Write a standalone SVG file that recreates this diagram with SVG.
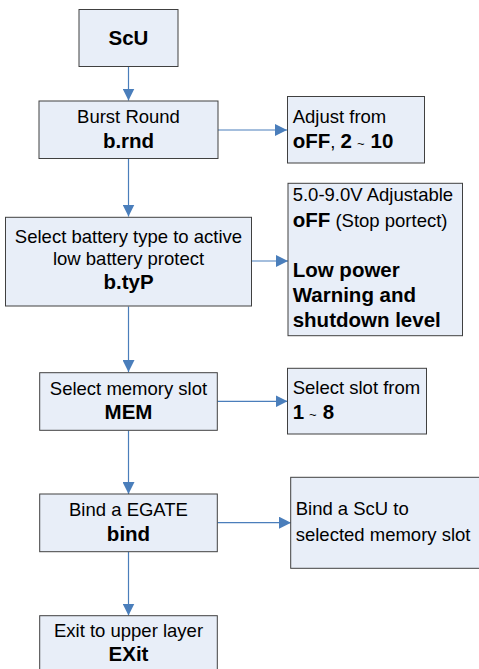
<svg xmlns="http://www.w3.org/2000/svg" width="479" height="669" viewBox="0 0 479 669">
<style>
.box{fill:#E8EEF8;stroke:#404040;stroke-width:1}
.t{font-family:"Liberation Sans",Arial,sans-serif;font-size:18.5px;fill:#000}
.b{font-family:"Liberation Sans",Arial,sans-serif;font-size:20.5px;font-weight:bold;fill:#000}
.c{text-anchor:middle}
.ln{stroke:#4A7EBB;stroke-width:1.2;fill:none}
</style>
<defs>
<marker id="ah" viewBox="0 0 12 12" refX="12" refY="6" markerWidth="12" markerHeight="12" markerUnits="userSpaceOnUse" orient="auto">
<path d="M0,0 L12,6 L0,12 Z" fill="#4A7EBB"/>
</marker>
</defs>
<rect width="479" height="669" fill="#fff"/>
<g id="connectors">
<line class="ln" x1="128.5" y1="67" x2="128.5" y2="100.5" marker-end="url(#ah)"/>
<line class="ln" x1="128.5" y1="159" x2="128.5" y2="216.5" marker-end="url(#ah)"/>
<line class="ln" x1="128.5" y1="306.5" x2="128.5" y2="372" marker-end="url(#ah)"/>
<line class="ln" x1="128.5" y1="430.5" x2="128.5" y2="494" marker-end="url(#ah)"/>
<line class="ln" x1="128.5" y1="552" x2="128.5" y2="615.5" marker-end="url(#ah)"/>
<line class="ln" x1="218" y1="130" x2="287" y2="130" marker-end="url(#ah)"/>
<line class="ln" x1="251.5" y1="261" x2="288" y2="261" marker-end="url(#ah)"/>
<line class="ln" x1="217.5" y1="401.3" x2="287.5" y2="401.3" marker-end="url(#ah)"/>
<line class="ln" x1="217.5" y1="522.7" x2="291" y2="522.7" marker-end="url(#ah)"/>
</g>
<g id="scu">
<rect class="box" x="79" y="9.5" width="99" height="57"/>
<text class="b c" x="128.5" y="45">ScU</text>
</g>
<g id="brnd">
<rect class="box" x="39" y="101" width="179" height="57.5"/>
<text class="t c" x="128.5" y="122.7">Burst Round</text>
<text class="b c" x="128.5" y="147.7">b.rnd</text>
</g>
<g id="brnd-opt">
<rect class="box" x="287.5" y="96.5" width="137" height="66.5"/>
<text class="t" x="292.7" y="123.3">Adjust from</text>
<text class="t" x="292.7" y="147.7"><tspan class="b">oFF</tspan>, <tspan class="b">2</tspan><tspan font-size="13" dx="5">~</tspan><tspan class="b" dx="6">10</tspan></text>
</g>
<g id="btyp">
<rect class="box" x="5.5" y="217.3" width="246" height="88.7"/>
<text class="t c" x="128.5" y="243.3">Select battery type to active</text>
<text class="t c" x="128.5" y="265.3">low battery protect</text>
<text class="b c" x="128.5" y="289.3">b.tyP</text>
</g>
<g id="btyp-opt">
<rect class="box" x="288" y="183.3" width="174.5" height="152.4"/>
<text class="t" x="292.7" y="201.3">5.0-9.0V Adjustable</text>
<text class="t" x="292.7" y="227.3"><tspan class="b">oFF</tspan> (Stop portect)</text>
<text class="b" x="292.7" y="276.7">Low power</text>
<text class="b" x="292.7" y="301.8">Warning and</text>
<text class="b" x="292.7" y="326.7">shutdown level</text>
</g>
<g id="mem">
<rect class="box" x="39.7" y="372.7" width="177.6" height="57.6"/>
<text class="t c" x="128.5" y="394.7">Select memory slot</text>
<text class="b c" x="128.5" y="419">MEM</text>
</g>
<g id="mem-opt">
<rect class="box" x="287.5" y="368.3" width="139" height="65.7"/>
<text class="t" x="292.7" y="394">Select slot from</text>
<text class="t" x="292.7" y="419"><tspan class="b">1</tspan><tspan font-size="13" dx="5">~</tspan><tspan class="b" dx="6">8</tspan></text>
</g>
<g id="bind">
<rect class="box" x="39.7" y="494" width="177.6" height="57.7"/>
<text class="t c" x="128.5" y="516">Bind a EGATE</text>
<text class="b c" x="128.5" y="540.7">bind</text>
</g>
<g id="bind-opt">
<rect class="box" x="290.7" y="477.3" width="195" height="91"/>
<text class="t" x="295.7" y="515.3">Bind a ScU to</text>
<text class="t" x="295.7" y="540.7">selected memory slot</text>
</g>
<g id="exit">
<rect class="box" x="39.7" y="615.7" width="177.6" height="60"/>
<text class="t c" x="128.5" y="637.3">Exit to upper layer</text>
<text class="b c" x="128.5" y="661.3">EXit</text>
</g>
</svg>
